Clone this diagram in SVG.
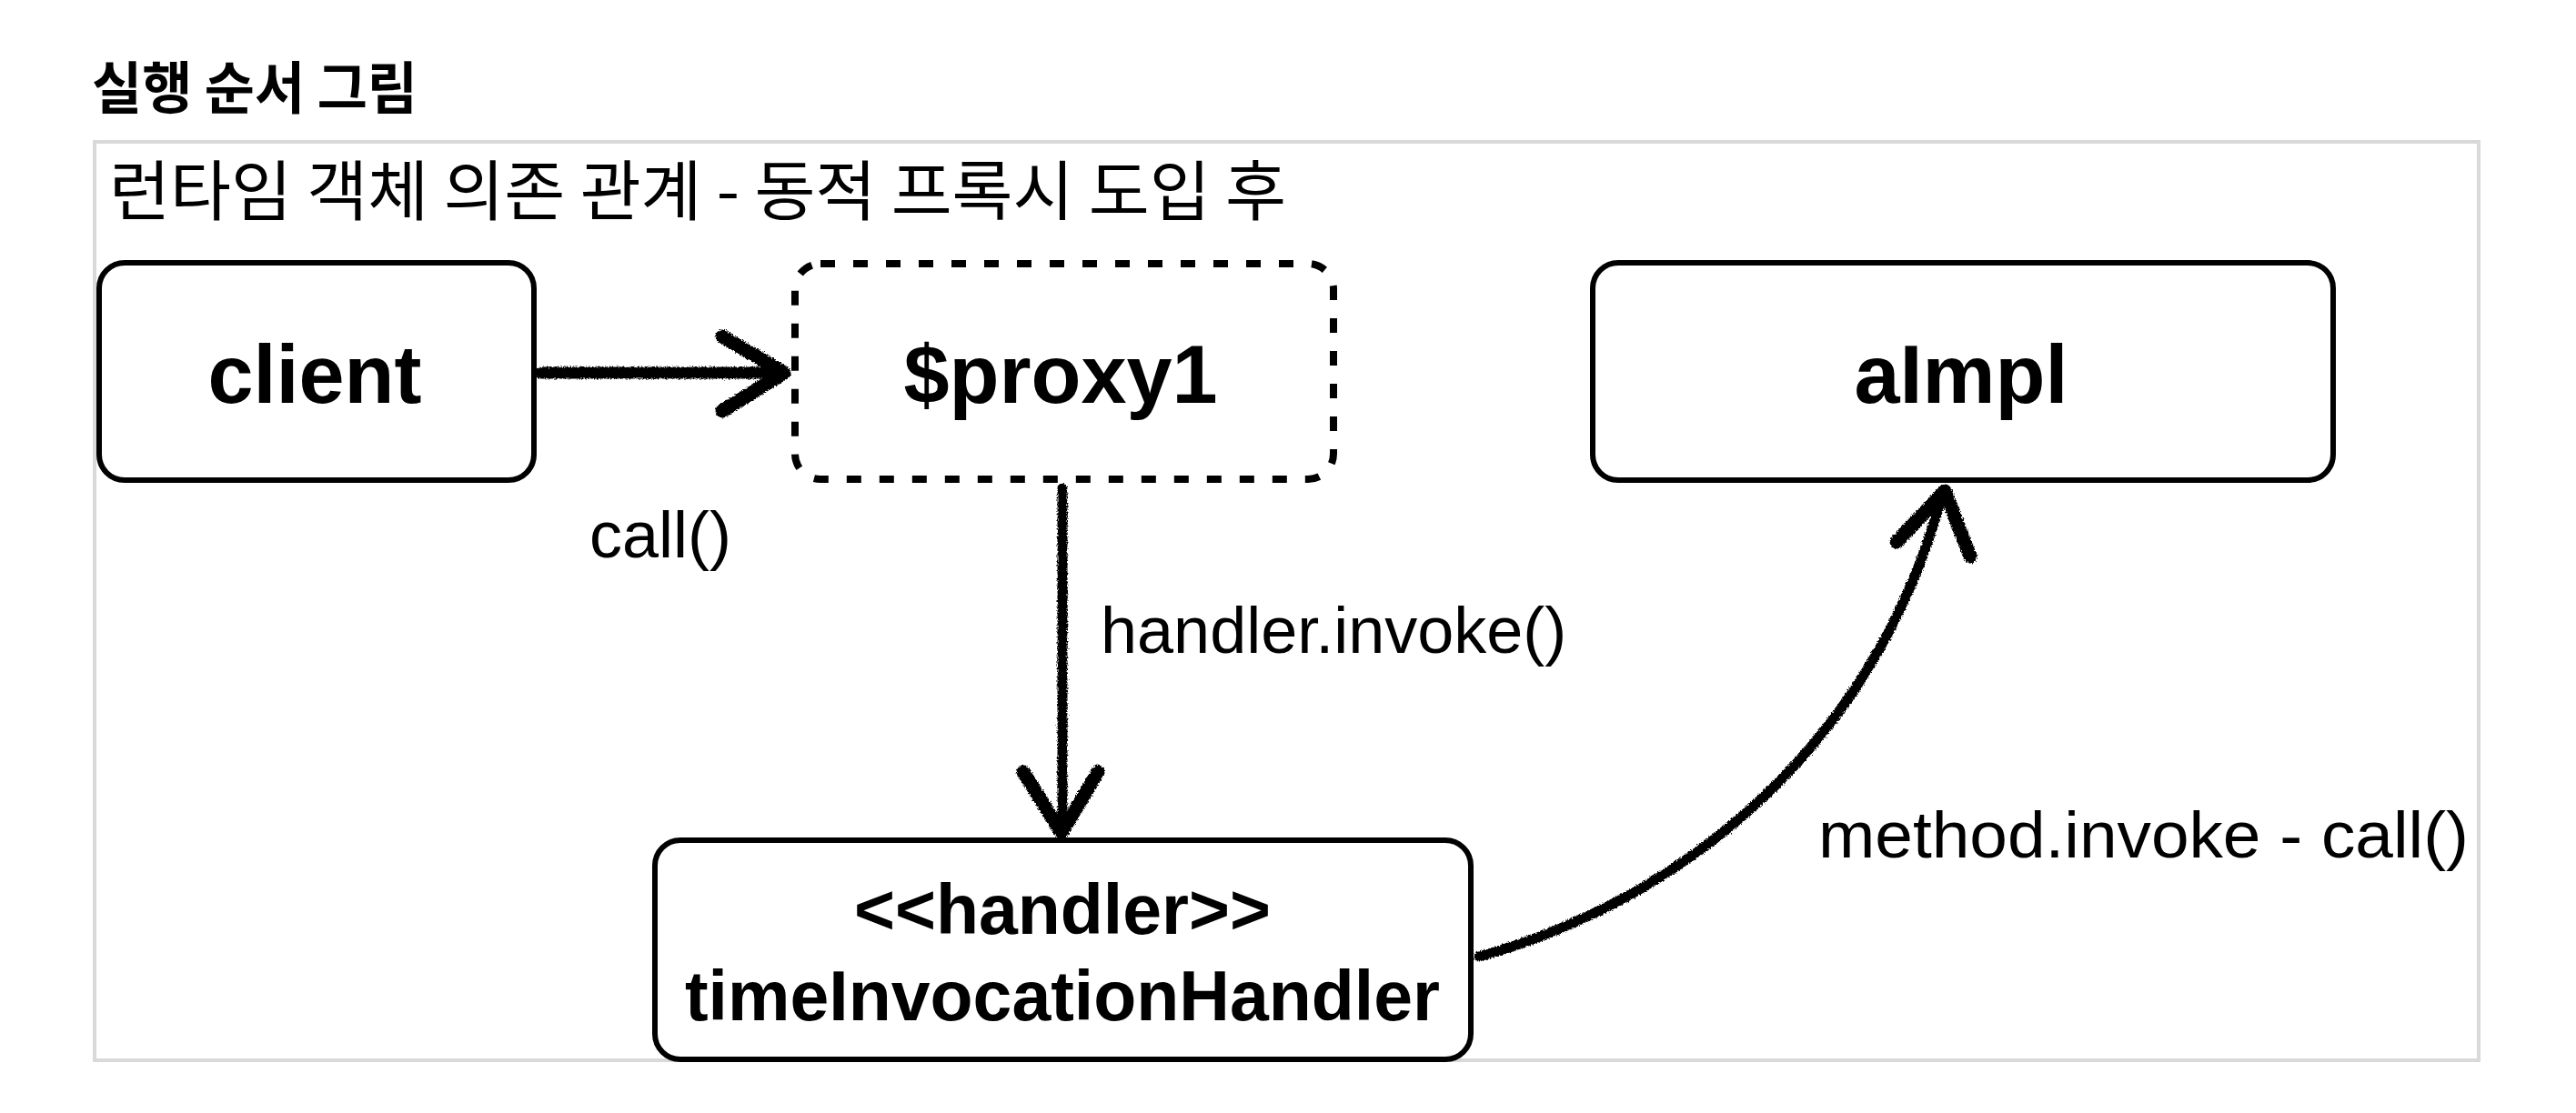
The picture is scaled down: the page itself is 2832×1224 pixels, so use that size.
<svg xmlns="http://www.w3.org/2000/svg" width="2832" height="1224" viewBox="0 0 2832 1224">
  <style>
    .title { font-family: "Noto Sans CJK KR", "Noto Sans", sans-serif; font-weight: 700; font-size: 62px; fill: #000; }
    .subtitle { font-family: "Noto Sans CJK KR", "Noto Sans", sans-serif; font-weight: 400; font-size: 72px; fill: #000; }
    .box { fill: #fff; stroke: #000; stroke-width: 6; }
    .dashed { stroke-dasharray: 16 20; stroke-width: 8; }
    .node-text { font-family: "Liberation Sans", Arial, sans-serif; font-weight: 700; font-size: 90px; fill: #000; text-anchor: middle; }
    .node-text-sm { font-family: "Liberation Sans", Arial, sans-serif; font-weight: 700; font-size: 77px; fill: #000; text-anchor: middle; }
    .label { font-family: "Liberation Sans", Arial, sans-serif; font-weight: 400; font-size: 72px; fill: #000; }
    .conn { fill: none; stroke: #000; stroke-width: 11; stroke-linecap: round; stroke-linejoin: round; }
  </style>
  <defs>
    <filter id="rough" filterUnits="userSpaceOnUse" x="0" y="0" width="2832" height="1224">
      <feTurbulence type="fractalNoise" baseFrequency="0.6" numOctaves="2" seed="4" result="noise"/>
      <feDisplacementMap in="SourceGraphic" in2="noise" scale="5" xChannelSelector="R" yChannelSelector="G"/>
    </filter>
  </defs>

  <rect width="2832" height="1224" fill="#fff"/>

  <text class="title" x="101" y="120" textLength="358" lengthAdjust="spacingAndGlyphs">실행 순서 그림</text>

  <rect id="frame" x="104" y="156" width="2621" height="1010" fill="none" stroke="#d9d9d9" stroke-width="4"/>

  <text class="subtitle" x="120" y="236" textLength="1294" lengthAdjust="spacingAndGlyphs">런타임 객체 의존 관계 - 동적 프록시 도입 후</text>

  <g id="node-client">
    <rect class="box" x="109" y="289" width="478" height="239" rx="28" ry="28"/>
    <text class="node-text" x="346" y="443">client</text>
  </g>

  <g id="node-proxy">
    <rect class="box dashed" x="874" y="290" width="592" height="237" rx="28" ry="28"/>
    <text class="node-text" x="1166" y="443">$proxy1</text>
  </g>

  <g id="node-aimpl">
    <rect class="box" x="1751" y="289" width="814" height="239" rx="28" ry="28"/>
    <text class="node-text" x="2156" y="443">aImpl</text>
  </g>

  <g id="node-handler">
    <rect class="box" x="720" y="924" width="897" height="241" rx="28" ry="28"/>
    <text class="node-text-sm" x="1168" y="1027">&lt;&lt;handler&gt;&gt;</text>
    <text class="node-text-sm" x="1168" y="1122">timeInvocationHandler</text>
  </g>

  <g id="connectors" filter="url(#rough)">
    <path class="conn" style="stroke-width:13" d="M595,410 L856,410"/>
    <path class="conn" style="stroke-width:15" d="M794,370 L862,410 L794,452"/>
    <path class="conn" d="M1168,537 L1168,910"/>
    <path class="conn" style="stroke-width:15" d="M1125,849 L1167,916 L1207,849"/>
    <path class="conn" d="M1626,1052 C1850,990 2060,820 2134,548"/>
    <path class="conn" style="stroke-width:15" d="M2085,596 L2138,540 L2166,612"/>
  </g>

  <g id="labels">
    <text class="label" x="648" y="613">call()</text>
    <text class="label" x="1210" y="718">handler.invoke()</text>
    <text class="label" x="1999" y="943" textLength="715" lengthAdjust="spacingAndGlyphs">method.invoke - call()</text>
  </g>
</svg>
